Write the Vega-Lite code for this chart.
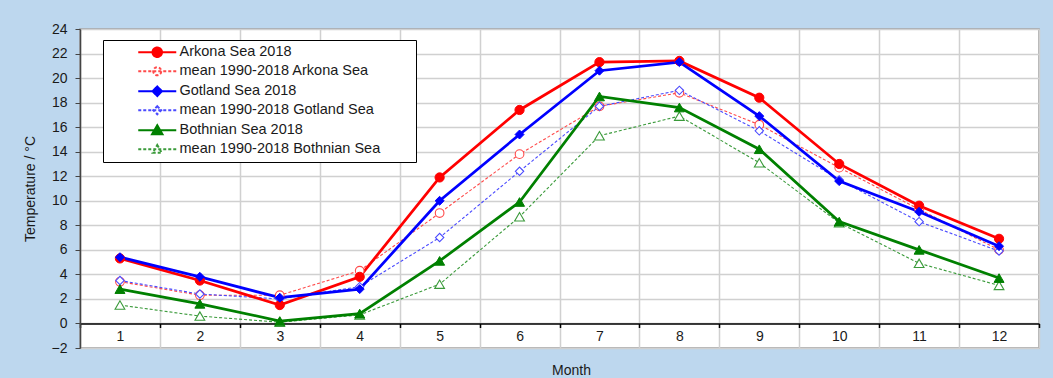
{
  "$schema": "https://vega.github.io/schema/vega-lite/v6.json",
  "width": 959,
  "height": 319,
  "autosize": {"type": "none"},
  "padding": {"left": 80, "top": 29, "right": 14, "bottom": 30},
  "background": "#BDD7EE",
  "config": {
    "font": "Liberation Sans",
    "view": {"fill": "white", "stroke": "#9A9A9A", "strokeWidth": 1.5},
    "axis": {
      "labelFont": "Liberation Sans",
      "titleFont": "Liberation Sans",
      "labelFontSize": 14,
      "titleFontSize": 14,
      "titleFontWeight": "normal",
      "labelColor": "#1A1A1A",
      "titleColor": "#1A1A1A",
      "gridColor": "#D0D0D0",
      "gridWidth": 1.5,
      "domainColor": "#333333",
      "tickColor": "#333333"
    },
    "legend": {"labelFont": "Liberation Sans"}
  },
  "datasets": {
    "temps": [
      {"month": 1, "series": "Arkona Sea 2018", "t": 5.3},
      {"month": 2, "series": "Arkona Sea 2018", "t": 3.5},
      {"month": 3, "series": "Arkona Sea 2018", "t": 1.5},
      {"month": 4, "series": "Arkona Sea 2018", "t": 3.8},
      {"month": 5, "series": "Arkona Sea 2018", "t": 11.9},
      {"month": 6, "series": "Arkona Sea 2018", "t": 17.4},
      {"month": 7, "series": "Arkona Sea 2018", "t": 21.3},
      {"month": 8, "series": "Arkona Sea 2018", "t": 21.4},
      {"month": 9, "series": "Arkona Sea 2018", "t": 18.4},
      {"month": 10, "series": "Arkona Sea 2018", "t": 13.0},
      {"month": 11, "series": "Arkona Sea 2018", "t": 9.6},
      {"month": 12, "series": "Arkona Sea 2018", "t": 6.9},
      {"month": 1, "series": "mean 1990-2018 Arkona Sea", "t": 3.4},
      {"month": 2, "series": "mean 1990-2018 Arkona Sea", "t": 2.3},
      {"month": 3, "series": "mean 1990-2018 Arkona Sea", "t": 2.3},
      {"month": 4, "series": "mean 1990-2018 Arkona Sea", "t": 4.3},
      {"month": 5, "series": "mean 1990-2018 Arkona Sea", "t": 9.0},
      {"month": 6, "series": "mean 1990-2018 Arkona Sea", "t": 13.8},
      {"month": 7, "series": "mean 1990-2018 Arkona Sea", "t": 17.7},
      {"month": 8, "series": "mean 1990-2018 Arkona Sea", "t": 18.8},
      {"month": 9, "series": "mean 1990-2018 Arkona Sea", "t": 16.2},
      {"month": 10, "series": "mean 1990-2018 Arkona Sea", "t": 12.7},
      {"month": 11, "series": "mean 1990-2018 Arkona Sea", "t": 9.3},
      {"month": 12, "series": "mean 1990-2018 Arkona Sea", "t": 6.0},
      {"month": 1, "series": "Gotland Sea 2018", "t": 5.4},
      {"month": 2, "series": "Gotland Sea 2018", "t": 3.8},
      {"month": 3, "series": "Gotland Sea 2018", "t": 2.1},
      {"month": 4, "series": "Gotland Sea 2018", "t": 2.8},
      {"month": 5, "series": "Gotland Sea 2018", "t": 10.0},
      {"month": 6, "series": "Gotland Sea 2018", "t": 15.4},
      {"month": 7, "series": "Gotland Sea 2018", "t": 20.6},
      {"month": 8, "series": "Gotland Sea 2018", "t": 21.3},
      {"month": 9, "series": "Gotland Sea 2018", "t": 16.9},
      {"month": 10, "series": "Gotland Sea 2018", "t": 11.6},
      {"month": 11, "series": "Gotland Sea 2018", "t": 9.1},
      {"month": 12, "series": "Gotland Sea 2018", "t": 6.3},
      {"month": 1, "series": "mean 1990-2018 Gotland Sea", "t": 3.5},
      {"month": 2, "series": "mean 1990-2018 Gotland Sea", "t": 2.4},
      {"month": 3, "series": "mean 1990-2018 Gotland Sea", "t": 2.0},
      {"month": 4, "series": "mean 1990-2018 Gotland Sea", "t": 3.0},
      {"month": 5, "series": "mean 1990-2018 Gotland Sea", "t": 7.0},
      {"month": 6, "series": "mean 1990-2018 Gotland Sea", "t": 12.4},
      {"month": 7, "series": "mean 1990-2018 Gotland Sea", "t": 17.7},
      {"month": 8, "series": "mean 1990-2018 Gotland Sea", "t": 19.0},
      {"month": 9, "series": "mean 1990-2018 Gotland Sea", "t": 15.7},
      {"month": 10, "series": "mean 1990-2018 Gotland Sea", "t": 11.7},
      {"month": 11, "series": "mean 1990-2018 Gotland Sea", "t": 8.3},
      {"month": 12, "series": "mean 1990-2018 Gotland Sea", "t": 5.9},
      {"month": 1, "series": "Bothnian Sea 2018", "t": 2.8},
      {"month": 2, "series": "Bothnian Sea 2018", "t": 1.6},
      {"month": 3, "series": "Bothnian Sea 2018", "t": 0.2},
      {"month": 4, "series": "Bothnian Sea 2018", "t": 0.8},
      {"month": 5, "series": "Bothnian Sea 2018", "t": 5.1},
      {"month": 6, "series": "Bothnian Sea 2018", "t": 9.9},
      {"month": 7, "series": "Bothnian Sea 2018", "t": 18.5},
      {"month": 8, "series": "Bothnian Sea 2018", "t": 17.6},
      {"month": 9, "series": "Bothnian Sea 2018", "t": 14.2},
      {"month": 10, "series": "Bothnian Sea 2018", "t": 8.3},
      {"month": 11, "series": "Bothnian Sea 2018", "t": 6.0},
      {"month": 12, "series": "Bothnian Sea 2018", "t": 3.7},
      {"month": 1, "series": "mean 1990-2018 Bothnian Sea", "t": 1.5},
      {"month": 2, "series": "mean 1990-2018 Bothnian Sea", "t": 0.6},
      {"month": 3, "series": "mean 1990-2018 Bothnian Sea", "t": 0.1},
      {"month": 4, "series": "mean 1990-2018 Bothnian Sea", "t": 0.7},
      {"month": 5, "series": "mean 1990-2018 Bothnian Sea", "t": 3.2},
      {"month": 6, "series": "mean 1990-2018 Bothnian Sea", "t": 8.7},
      {"month": 7, "series": "mean 1990-2018 Bothnian Sea", "t": 15.3},
      {"month": 8, "series": "mean 1990-2018 Bothnian Sea", "t": 16.9},
      {"month": 9, "series": "mean 1990-2018 Bothnian Sea", "t": 13.1},
      {"month": 10, "series": "mean 1990-2018 Bothnian Sea", "t": 8.2},
      {"month": 11, "series": "mean 1990-2018 Bothnian Sea", "t": 4.9},
      {"month": 12, "series": "mean 1990-2018 Bothnian Sea", "t": 3.1}
    ]
  },
  "data": {"name": "temps"},
  "encoding": {
    "x": {
      "field": "month",
      "type": "ordinal",
      "bandPosition": 0.5,
      "scale": {"type": "band", "paddingInner": 0, "paddingOuter": 0},
      "axis": {
        "title": "Month",
        "labelAngle": 0,
        "tickBand": "extent",
        "grid": true,
        "offset": -24.5,
        "domainColor": "#000000",
        "domainWidth": 1.5,
        "tickColor": "#000000",
        "tickSize": 4,
        "tickWidth": 1.5,
        "labelPadding": 2,
        "titlePadding": 20,
        "titleX": 491
      }
    },
    "y": {
      "field": "t",
      "type": "quantitative",
      "scale": {"domain": [-2, 24], "nice": false, "zero": false},
      "axis": {
        "title": "Temperature / °C",
        "values": [-2, 0, 2, 4, 6, 8, 10, 12, 14, 16, 18, 20, 22, 24],
        "grid": true,
        "domainColor": "#444444",
        "domainWidth": 1.5,
        "tickSize": 5,
        "tickColor": "#444444",
        "labelPadding": 8,
        "titlePadding": 14
      }
    }
  },
  "layer": [
    {
      "transform": [{"filter": "indexof(datum.series, 'mean') === 0"}],
      "mark": {"type": "line", "strokeWidth": 1.1, "strokeDash": [3, 2]},
      "encoding": {
        "color": {
          "field": "series",
          "type": "nominal",
          "scale": {
            "domain": ["Arkona Sea 2018", "mean 1990-2018 Arkona Sea", "Gotland Sea 2018", "mean 1990-2018 Gotland Sea", "Bothnian Sea 2018", "mean 1990-2018 Bothnian Sea"],
            "range": ["#FF0000", "#FF4A4A", "#0000FF", "#4A4AFF", "#008000", "#3A9A3A"]
          },
          "legend": {
            "title": null,
            "orient": "none",
            "legendX": 23,
            "legendY": 11,
            "padding": 5,
            "fillColor": "white",
            "strokeColor": "#000000",
            "symbolSize": 100,
            "symbolStrokeWidth": 2,
            "symbolOffset": 42,
            "labelOffset": 15,
            "rowPadding": 2,
            "labelFontSize": 14.5,
            "labelColor": "#1A1A1A",
            "labelLimit": 400,
            "encode": {
              "symbols": {
                "update": {
                  "shape": {"signal": "['M-3.8,0H3.8M0.95,0A0.95,0.95,0,1,1,-0.95,0A0.95,0.95,0,1,1,0.95,0ZM49.8,0', 'M-3.8,0H3.8M0.8,0A0.8,0.8,0,1,1,-0.8,0A0.8,0.8,0,1,1,0.8,0ZM49.8,0', 'M-3.8,0H3.8M0,-0.95L0.95,0L0,0.95L-0.95,0ZM49.8,0', 'M-3.8,0H3.8M0,-0.8L0.8,0L0,0.8L-0.8,0ZM49.8,0', 'M-3.8,0H3.8M0,-1L1.05,0.8L-1.05,0.8ZM49.8,0', 'M-3.8,0H3.8M0,-0.85L0.9,0.7L-0.9,0.7ZM49.8,0'][indexof(['Arkona Sea 2018', 'mean 1990-2018 Arkona Sea', 'Gotland Sea 2018', 'mean 1990-2018 Gotland Sea', 'Bothnian Sea 2018', 'mean 1990-2018 Bothnian Sea'], datum.value)]"},
                  "fill": {"signal": "['#FF0000', '#FFFFFF', '#0000FF', '#FFFFFF', '#008000', '#FFFFFF'][indexof(['Arkona Sea 2018', 'mean 1990-2018 Arkona Sea', 'Gotland Sea 2018', 'mean 1990-2018 Gotland Sea', 'Bothnian Sea 2018', 'mean 1990-2018 Bothnian Sea'], datum.value)]"},
                  "stroke": {"signal": "['#FF0000', '#FF4A4A', '#0000FF', '#4A4AFF', '#008000', '#3A9A3A'][indexof(['Arkona Sea 2018', 'mean 1990-2018 Arkona Sea', 'Gotland Sea 2018', 'mean 1990-2018 Gotland Sea', 'Bothnian Sea 2018', 'mean 1990-2018 Bothnian Sea'], datum.value)]"},
                  "strokeDash": {"signal": "indexof(datum.value, 'mean') === 0 ? [3, 2] : [1, 0]"},
                  "opacity": {"value": 1}
                }
              }
            }
          }
        }
      }
    },
    {
      "transform": [{"filter": "indexof(datum.series, 'mean') !== 0"}],
      "mark": {"type": "line", "strokeWidth": 2.75},
      "encoding": {
        "color": {"field": "series", "type": "nominal"}
      }
    },
    {
      "transform": [{"filter": "datum.series === 'mean 1990-2018 Arkona Sea'"}],
      "mark": {"type": "point", "shape": "circle", "size": 75, "fill": "#FFFFFF", "stroke": "#FF4A4A", "strokeWidth": 1.1, "opacity": 1},
      "encoding": {}
    },
    {
      "transform": [{"filter": "datum.series === 'mean 1990-2018 Gotland Sea'"}],
      "mark": {"type": "point", "shape": "diamond", "size": 70, "fill": "#FFFFFF", "stroke": "#4A4AFF", "strokeWidth": 1.1, "opacity": 1},
      "encoding": {}
    },
    {
      "transform": [{"filter": "datum.series === 'mean 1990-2018 Bothnian Sea'"}],
      "mark": {"type": "point", "shape": "triangle-up", "size": 95, "fill": "#FFFFFF", "stroke": "#3A9A3A", "strokeWidth": 1.1, "opacity": 1},
      "encoding": {}
    },
    {
      "transform": [{"filter": "datum.series === 'Arkona Sea 2018'"}],
      "mark": {"type": "point", "shape": "circle", "size": 85, "fill": "#FF0000", "stroke": "#FF0000", "strokeWidth": 1, "opacity": 1},
      "encoding": {}
    },
    {
      "transform": [{"filter": "datum.series === 'Gotland Sea 2018'"}],
      "mark": {"type": "point", "shape": "diamond", "size": 80, "fill": "#0000FF", "stroke": "#0000FF", "strokeWidth": 1, "opacity": 1},
      "encoding": {}
    },
    {
      "transform": [{"filter": "datum.series === 'Bothnian Sea 2018'"}],
      "mark": {"type": "point", "shape": "triangle-up", "size": 100, "fill": "#008000", "stroke": "#008000", "strokeWidth": 1, "opacity": 1},
      "encoding": {}
    }
  ]
}
